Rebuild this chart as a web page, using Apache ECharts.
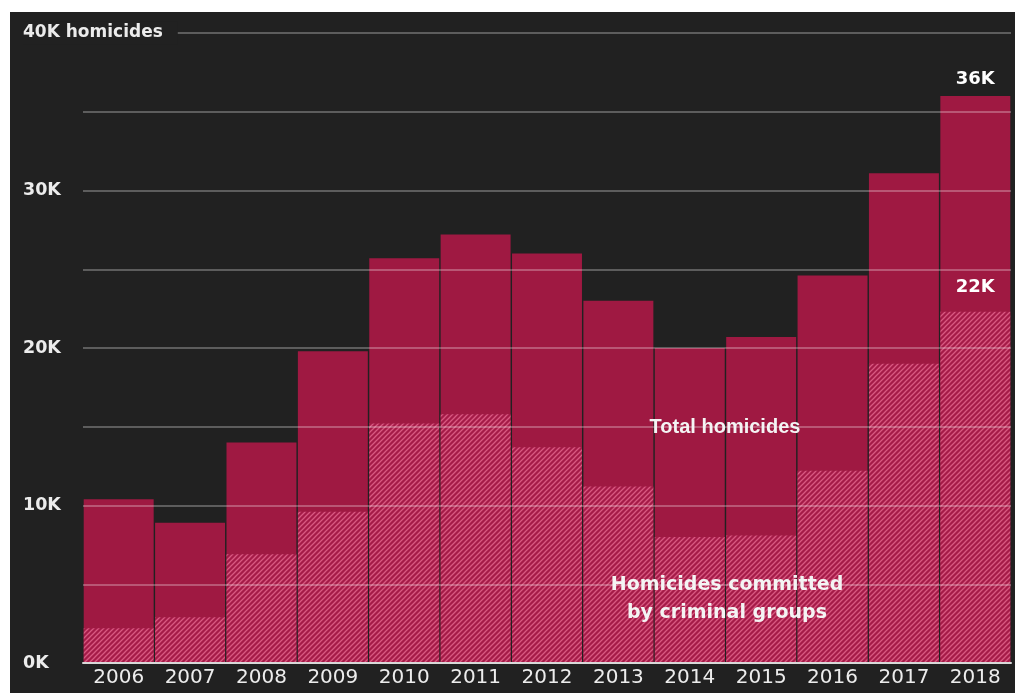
<!DOCTYPE html>
<html>
<head>
<meta charset="utf-8">
<script src="https://cdn.jsdelivr.net/npm/echarts@6/dist/echarts.min.js"></script>
<style>
  html, body { margin: 0; padding: 0; background: #ffffff; width: 1020px; height: 693px; overflow: hidden; }
  #chart { position: absolute; left: 10px; top: 12px; width: 1005px; height: 681px; background: #212121; }
</style>
</head>
<body>
<div id="chart"></div>
<script>
// ---- data ----
const years = ['2006','2007','2008','2009','2010','2011','2012','2013','2014','2015','2016','2017','2018'];
const totalHomicides = [10400, 8900, 14000, 19800, 25700, 27200, 26000, 23000, 20000, 20700, 24600, 31100, 36000];
const criminalGroups = [2200, 2900, 6900, 9600, 15200, 15800, 13700, 11200, 8000, 8100, 12200, 19000, 22300];
const yTicks = [0, 10000, 20000, 30000, 40000];
const yTickLabels = ['0K', '10K', '20K', '30K', '40K homicides'];
const labelTotal = '36K';
const labelCriminal = '22K';

// ---- hatch pattern ----
function makeHatch() {
  const s = 5;
  const c = document.createElement('canvas');
  c.width = s; c.height = s;
  const g = c.getContext('2d');
  g.fillStyle = '#a51b48';
  g.fillRect(0, 0, s, s);
  g.strokeStyle = 'rgba(226,100,140,0.85)';
  g.lineWidth = 1.3;
  g.beginPath();
  g.moveTo(0, s); g.lineTo(s, 0);
  g.moveTo(-1, 1); g.lineTo(1, -1);
  g.moveTo(s - 1, s + 1); g.lineTo(s + 1, s - 1);
  g.stroke();
  return c;
}

const chart = echarts.init(document.getElementById('chart'), null, { renderer: 'canvas' });
const lastIdx = years.length - 1;

const option = {
  backgroundColor: '#212121',
  animation: false,
  grid: { left: 73, right: 4, top: 21, bottom: 30, containLabel: false },
  xAxis: {
    type: 'category',
    data: years,
    z: 4,
    axisLine: { show: true, lineStyle: { color: '#d8d8d8', width: 2 } },
    axisTick: { show: false },
    axisLabel: { color: '#ececec', fontFamily: 'DejaVu Sans', fontSize: 20, margin: 5 }
  },
  yAxis: {
    type: 'value',
    min: 0,
    max: 40000,
    interval: 5000,
    z: 3,
    axisLine: { show: false },
    axisTick: { show: false },
    splitLine: { show: true, lineStyle: { color: 'rgba(255,255,255,0.27)', width: 2 } },
    axisLabel: {
      align: 'left',
      margin: 60,
      color: '#ececec',
      fontFamily: 'DejaVu Sans',
      fontWeight: 'bold',
      fontSize: 17.5,
      formatter: function (v) {
        const i = yTicks.indexOf(v);
        if (i < 0) return '';
        if (v === 40000) return '{top|' + yTickLabels[i] + '}';
        return yTickLabels[i];
      },
      rich: {
        top: {
          color: '#ececec', fontFamily: 'DejaVu Sans', fontWeight: 'bold', fontSize: 17,
          backgroundColor: '#212121', padding: [3, 15, 3, 0]
        }
      }
    }
  },
  series: [
    {
      name: 'Total homicides',
      type: 'bar',
      data: totalHomicides.map((v, i) => i === lastIdx ? {
        value: v,
        label: { show: true, position: 'top', distance: 8, formatter: labelTotal,
          color: '#ffffff', fontFamily: 'DejaVu Sans', fontWeight: 'bold', fontSize: 18 }
      } : v),
      barCategoryGap: '2%',
      barGap: '-100%',
      itemStyle: { color: '#9f1942' },
      z: 2
    },
    {
      name: 'Homicides committed by criminal groups',
      type: 'bar',
      data: criminalGroups.map((v, i) => i === lastIdx ? {
        value: v,
        label: { show: true, position: 'top', distance: 15, formatter: labelCriminal,
          color: '#ffffff', fontFamily: 'DejaVu Sans', fontWeight: 'bold', fontSize: 18 }
      } : v),
      barCategoryGap: '2%',
      barGap: '-100%',
      itemStyle: { color: { image: makeHatch(), repeat: 'repeat' } },
      z: 2
    }
  ],
  graphic: [
    {
      type: 'text', z: 10,
      x: 715, y: 415,
      style: {
        text: 'Total homicides', fill: '#f4f4f4',
        font: 'bold 20px "Liberation Sans"',
        textAlign: 'center', textVerticalAlign: 'middle'
      }
    },
    {
      type: 'text', z: 10,
      x: 717, y: 587,
      style: {
        text: 'Homicides committed\nby criminal groups', fill: '#f4f4f4',
        font: 'bold 19px "DejaVu Sans"', lineHeight: 28,
        textAlign: 'center', textVerticalAlign: 'middle'
      }
    }
  ]
};
chart.setOption(option);
</script>
</body>
</html>
